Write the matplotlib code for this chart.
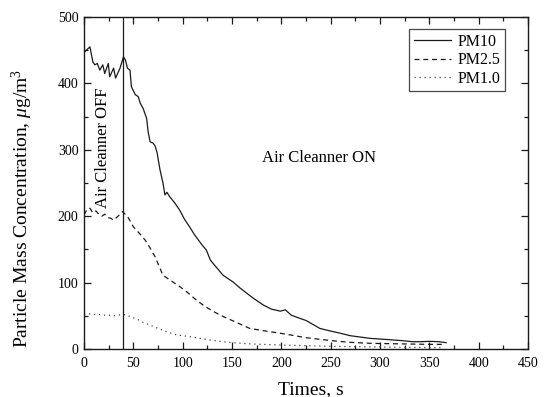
import numpy as np
import matplotlib
matplotlib.use('Agg')
import matplotlib.pyplot as plt

plt.rcParams['font.family'] = ['Liberation Serif', 'DejaVu Serif']
plt.rcParams['mathtext.fontset'] = 'custom'
plt.rcParams['mathtext.rm'] = 'Liberation Serif'
plt.rcParams['mathtext.it'] = 'Liberation Serif:italic'

# PM10 (solid)
t_pm10 = [0, 1, 6, 9, 11, 13.5, 16, 19, 21, 24.6, 26, 30, 32, 35, 36.5, 40, 42, 44, 46.6, 48,
          52, 55, 57, 60, 63.5, 65, 67, 70, 72, 74, 77, 80, 82, 84, 87, 92, 97, 102, 107, 112,
          116, 120, 124, 128, 133, 137, 141, 146, 151, 158, 165, 172, 178, 182, 190, 199, 204,
          210, 219, 225, 232, 239, 250, 259, 270, 280, 290, 300, 310, 323, 333, 340, 350, 360, 367]
pm10 = [450, 448, 455, 432, 428, 430, 420, 428, 415, 430, 410, 423, 408, 418, 423, 440, 435, 423, 420, 395,
        383, 380, 370, 362, 347, 327, 312, 310, 306, 296, 270, 250, 232, 236, 229, 220, 209, 195, 184, 172,
        164, 156, 149, 134, 125, 118, 111, 106, 101, 92, 84, 76, 70, 66, 60, 57, 59,
        51, 46, 43, 37, 31, 27, 24, 20, 18, 16, 15, 14, 12.5, 11, 11, 11.5, 11, 9.5]

# PM2.5 (dashed)
t_pm25 = [0, 3, 6, 9, 12, 15, 18, 21, 24, 27, 30, 33, 36, 39, 41, 44, 47, 50, 55, 62, 67, 72, 76, 80,
          85, 90, 97, 105, 112, 118, 125, 133, 141, 150, 159, 168, 180, 195, 210, 225, 239, 255, 270,
          290, 310, 330, 350, 364]
pm25 = [202, 210, 212, 205, 208, 203, 200, 203, 198, 197, 194, 198, 202, 207, 204, 200, 192, 184, 176, 164,
        152, 139, 125, 111, 106, 101, 94, 85, 76, 69, 62, 55, 49, 43, 37, 31, 28, 24.6, 21, 17, 14.6, 12, 10,
        8.6, 8, 7.5, 7, 7]

# PM1.0 (dotted)
t_pm1 = [0, 5, 10, 15, 20, 25, 30, 35, 40, 45, 50, 55, 60, 67, 75, 84, 92, 100, 110, 118, 130, 140, 151,
         165, 180, 200, 225, 250, 275, 300, 330, 365]
pm1 = [52, 53, 52, 52, 51, 51, 50, 51, 52, 50, 47, 44, 40, 36, 31, 26, 22, 20, 18, 16, 13, 11, 9.5,
       8, 7, 6, 5, 4, 3.5, 3, 2.5, 2]

switch_time = 40

fig = plt.figure(figsize=(5.47, 3.97), dpi=100)
ax = fig.add_axes([0.1536, 0.1209, 0.8117, 0.8363])

c = '#1a1a1a'
ax.plot(t_pm10, pm10, color=c, lw=0.9, label='PM10')
ax.plot(t_pm25, pm25, color=c, lw=0.9, dashes=(4, 3), label='PM2.5')
ax.plot(t_pm1, pm1, color='#444444', lw=0.9, dashes=(1, 3), label='PM1.0')
ax.axvline(switch_time, color=c, lw=0.9)

ax.text(19.3, 303, 'Air Cleanner OFF', rotation=90, ha='center', va='center', fontsize=12)
ax.text(238, 288, 'Air Cleanner ON', ha='center', va='center', fontsize=12)

ax.set_xlim(0, 450)
ax.set_ylim(0, 500)
ax.set_xticks(np.arange(0, 451, 50))
ax.set_xticks(np.arange(0, 451, 25), minor=True)
ax.set_yticks(np.arange(0, 501, 100))
ax.set_yticks(np.arange(0, 501, 50), minor=True)
ax.tick_params(which='both', direction='in', top=True, right=True, labelsize=10, color=c)
ax.tick_params(which='major', length=5, width=0.9)
ax.tick_params(which='minor', length=3, width=0.9)
ax.tick_params(axis='x', pad=6)
ax.tick_params(axis='y', pad=4)
for s in ax.spines.values():
    s.set_linewidth(1.0)
    s.set_color(c)

ax.set_xlabel('Times, s', fontsize=14)
ax.set_ylabel(r'Particle Mass Concentration, $\mu$g/m$^3$', fontsize=14)
ax.xaxis.set_label_coords(0.512, -0.097)
ax.yaxis.set_label_coords(-0.11, 0.425)

leg = ax.legend(loc='upper right', bbox_to_anchor=(0.948, 0.964), fontsize=11.5, frameon=True,
                fancybox=False, edgecolor=c, handlelength=2.3, handletextpad=0.4,
                labelspacing=0.15, borderpad=0.3, borderaxespad=0)
leg.get_frame().set_linewidth(0.9)

fig.savefig('out.png', dpi=100)
